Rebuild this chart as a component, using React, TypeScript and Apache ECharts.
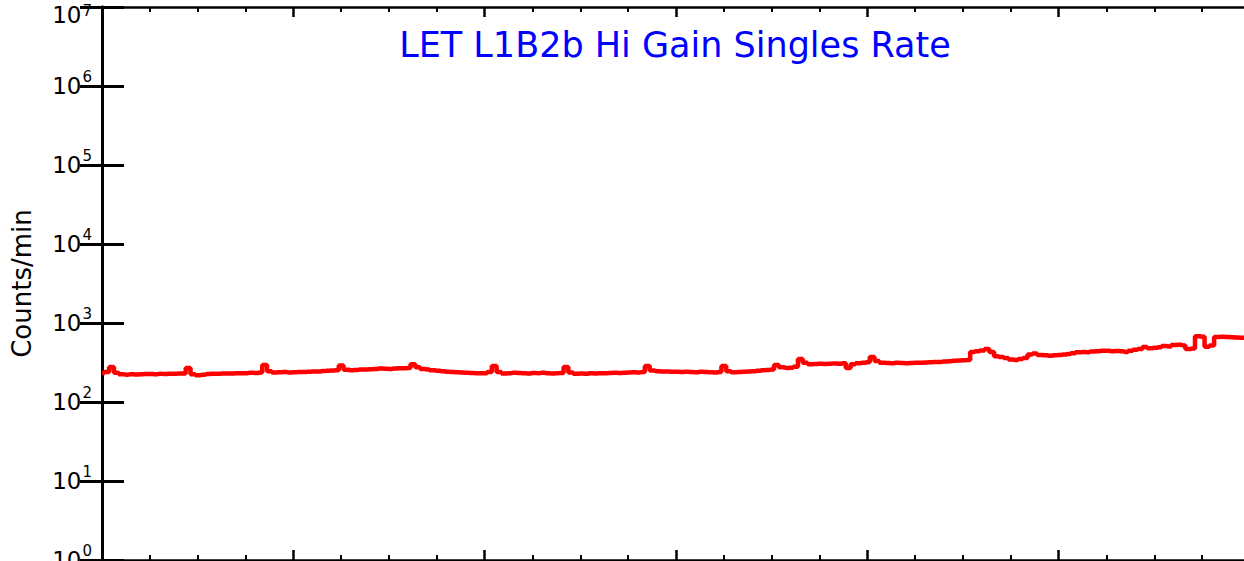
import React, { useEffect, useRef } from "react";
import * as echarts from "echarts";

// Counts/min sampled every 0.1 x-units (x axis spans 0..24)
const rates = [
  233, 240, 277, 235, 224, 222, 224, 223, 225, 226,
  226, 225, 227, 226, 228, 227, 229, 230, 269, 225,
  218, 222, 226, 228, 227, 229, 230, 229, 231, 232,
  232, 234, 233, 236, 294, 245, 236, 238, 240, 237,
  238, 240, 239, 242, 244, 243, 246, 248, 250, 252,
  290, 256, 252, 255, 258, 257, 260, 262, 266, 264,
  262, 265, 267, 268, 270, 300, 275, 262, 258, 252,
  248, 245, 242, 240, 238, 236, 235, 233, 232, 232,
  232, 240, 286, 240, 230, 232, 234, 233, 231, 230,
  233, 232, 234, 231, 230, 232, 233, 277, 236, 228,
  230, 228, 231, 230, 232, 231, 233, 234, 233, 235,
  236, 238, 237, 240, 286, 250, 245, 243, 244, 242,
  241, 240, 242, 239, 238, 241, 240, 238, 236, 240,
  286, 245, 238, 240, 241, 243, 245, 248, 252, 255,
  258, 294, 275, 270, 272, 280, 350, 315, 300, 302,
  305, 303, 306, 308, 305, 310, 269, 300, 310, 314,
  318, 371, 330, 315, 312, 310, 313, 311, 309, 312,
  314, 313, 316, 318, 320, 322, 325, 328, 332, 335,
  338, 340, 430, 440, 450, 469, 430, 380, 371, 360,
  345, 340, 350, 360, 400, 410, 394, 390, 385, 390,
  394, 400, 405, 415, 425, 430, 425, 435, 440, 445,
  445, 440, 442, 438, 430, 445, 460, 470, 497, 480,
  485, 495, 510, 505, 527, 530, 520, 470, 475, 680,
  670, 500, 520, 665, 670, 665, 660, 655, 650, 648,
  646,
];
const sampleStep = 0.1;
const xMin = 0;
const xMax = 24;
const xInterval = 4;
const yMin = 1;
const yMax = 1e7;
const titleText = "LET L1B2b Hi Gain Singles Rate";
const yAxisTitle = "Counts/min";

export default function App() {
  const ref = useRef<HTMLDivElement>(null);
  useEffect(() => {
    if (!ref.current) return;
    const chart = echarts.init(ref.current, null, { renderer: "svg" });
    const data = rates.map((r, i) => [i * sampleStep, r]);
    const font = "DejaVu Sans";
    const expFormatter = (v: number) => {
      const e = Math.round(Math.log10(v));
      if (e === 7) return `{bt|10}{et|${e}}`;
      return `{b|10}{e|${e}}`;
    };
    const xCommon = {
      type: "value" as const,
      min: xMin,
      max: xMax,
      interval: xInterval,
      axisLine: { show: true, lineStyle: { color: "#000", width: 2.5 } },
      axisTick: { show: true, inside: true, length: 10, lineStyle: { color: "#000", width: 2.5 } },
      minorTick: { show: true, splitNumber: 4, length: 5, lineStyle: { color: "#000", width: 2 } },
      axisLabel: { show: false },
      splitLine: { show: false },
      minorSplitLine: { show: false },
    };
    const yCommon = {
      type: "log" as const,
      logBase: 10,
      min: yMin,
      max: yMax,
      splitNumber: 7,
      axisLine: { show: true, lineStyle: { color: "#000", width: 3 } },
      axisTick: { show: true, inside: true, length: 22, lineStyle: { color: "#000", width: 3 } },
      minorTick: { show: false },
      splitLine: { show: false },
    };
    chart.setOption({
      animation: false,
      backgroundColor: "#fff",
      grid: {
        left: 102,
        top: 7,
        width: 1148,
        height: 553,
        containLabel: false,
        outerBoundsMode: "none",
      },
      graphic: [
        {
          type: "text",
          x: 675,
          y: 45,
          style: {
            text: titleText,
            fill: "#0000ff",
            font: `35px "${font}"`,
            textAlign: "center",
            textVerticalAlign: "middle",
          },
        },
      ],
      xAxis: [
        { ...xCommon, position: "bottom" },
        { ...xCommon, position: "top" },
      ],
      yAxis: [
        {
          ...yCommon,
          position: "left",
          name: yAxisTitle,
          nameLocation: "middle",
          nameGap: 67,
          nameRotate: 90,
          nameTextStyle: { fontFamily: font, fontSize: 26, color: "#000" },
          axisLabel: {
            show: true,
            margin: 10,
            formatter: expFormatter,
            rich: {
              b: { fontFamily: font, fontSize: 23, color: "#000", verticalAlign: "bottom", padding: [5, 0, 5, 0] },
              e: { fontFamily: font, fontSize: 15, color: "#000", verticalAlign: "top", padding: [0, 0, 0, 1] },
              bt: { fontFamily: font, fontSize: 23, color: "#000", verticalAlign: "bottom", padding: [16, 0, 0, 0] },
              et: { fontFamily: font, fontSize: 15, color: "#000", verticalAlign: "top", padding: [16, 0, 0, 1] },
            },
          },
        },
        { ...yCommon, position: "right", axisLabel: { show: false } },
      ],
      series: [
        {
          type: "line",
          xAxisIndex: 0,
          yAxisIndex: 0,
          step: "middle",
          showSymbol: false,
          data,
          lineStyle: { color: "#ff0000", width: 4.5 },
          itemStyle: { color: "#ff0000" },
        },
      ],
    });
    return () => chart.dispose();
  }, []);
  return (
    <div
      ref={ref}
      style={{ position: "fixed", left: 0, top: 0, width: 1244, height: 561, background: "#fff" }}
    />
  );
}
